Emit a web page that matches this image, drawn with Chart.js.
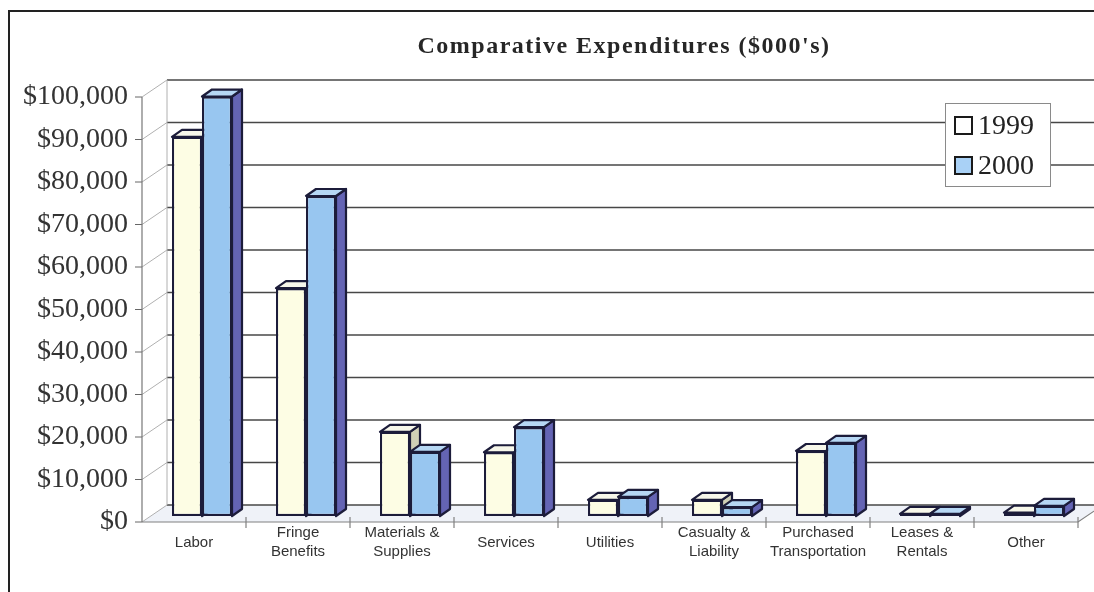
<!DOCTYPE html>
<html>
<head>
<meta charset="utf-8">
<title>Comparative Expenditures</title>
<script src="https://cdn.jsdelivr.net/npm/chart.js"></script>
<style>
  html, body { margin: 0; padding: 0; background: #fff; }
  #wrap { width: 1094px; height: 592px; }
</style>
</head>
<body>
<div id="wrap"><canvas id="expChart" width="1094" height="592"></canvas></div>
<script>
// Expenditure categories and yearly totals ($000's)
const categories = [
  "Labor",
  ["Fringe", "Benefits"],
  ["Materials &", "Supplies"],
  "Services",
  "Utilities",
  ["Casualty &", "Liability"],
  ["Purchased", "Transportation"],
  ["Leases &", "Rentals"],
  "Other"
];
const seriesNames = ["1999", "2000"];
const values1999 = [89200, 53600, 19800, 15000, 3800, 3800, 15300, 500, 800];
const values2000 = [98700, 75300, 15100, 20900, 4500, 2100, 17200, 500, 2400];
const yTicks = [0, 10000, 20000, 30000, 40000, 50000, 60000, 70000, 80000, 90000, 100000];

// colours: front / top / side for each series
const frontColors = ["#fdfde4", "#98c6f0"];
const topColors = ["#f7f7ea", "#b6d7f4"];
const sideColors = ["#cfcfb6", "#6464b4"];
const edgeColor = "#1c1c3a";

// offsets for the fake 3D: bar plane -> front axis, front -> back wall, bar depth
const planeDx = 8, planeDy = 6;
const wallDx = 25, wallDy = -17;
const barDx = 10, barDy = -7;

function poly(ctx, pts) {
  ctx.beginPath();
  ctx.moveTo(pts[0][0], pts[0][1]);
  for (let i = 1; i < pts.length; i++) ctx.lineTo(pts[i][0], pts[i][1]);
  ctx.closePath();
}

const chart3d = {
  id: 'chart3d',
  beforeDatasetsDraw(chart) {
    const ctx = chart.ctx;
    const a = chart.chartArea;
    const ys = chart.scales.y;
    const fx0 = a.left - planeDx, fx1 = a.right - planeDx;
    const fy = v => ys.getPixelForValue(v) + planeDy;
    const bx0 = fx0 + wallDx, bx1 = fx1 + wallDx;
    ctx.save();

    // floor
    ctx.fillStyle = "#eff2f8";
    poly(ctx, [[fx0, fy(0)], [fx1, fy(0)], [bx1, fy(0) + wallDy], [bx0, fy(0) + wallDy]]);
    ctx.fill();

    // gridlines on back wall and side wall
    ys.ticks.forEach(t => {
      const yf = fy(t.value), yb = yf + wallDy;
      ctx.strokeStyle = "#474747";
      ctx.lineWidth = 1.4;
      ctx.beginPath();
      ctx.moveTo(bx0, yb);
      ctx.lineTo(chart.width, yb);
      ctx.stroke();
      ctx.strokeStyle = "#b0b0b0";
      ctx.lineWidth = 1;
      ctx.beginPath();
      ctx.moveTo(fx0, yf);
      ctx.lineTo(bx0, yb);
      ctx.stroke();
      // tick mark left of the axis
      ctx.strokeStyle = "#666";
      ctx.beginPath();
      ctx.moveTo(fx0 - 7, yf);
      ctx.lineTo(fx0, yf);
      ctx.stroke();
    });

    // back wall left edge
    ctx.strokeStyle = "#b0b0b0";
    ctx.beginPath();
    ctx.moveTo(bx0, fy(100000) + wallDy);
    ctx.lineTo(bx0, fy(0) + wallDy);
    ctx.stroke();

    // value axis
    ctx.strokeStyle = "#777";
    ctx.lineWidth = 1.2;
    ctx.beginPath();
    ctx.moveTo(fx0, fy(100000));
    ctx.lineTo(fx0, fy(0));
    ctx.stroke();

    // category axis (front edge of floor) with ticks between groups
    ctx.strokeStyle = "#808080";
    ctx.beginPath();
    ctx.moveTo(fx0, fy(0));
    ctx.lineTo(fx1, fy(0));
    ctx.lineTo(bx1, fy(0) + wallDy);
    ctx.stroke();
    const step = (fx1 - fx0) / categories.length;
    for (let i = 1; i <= categories.length; i++) {
      const tx = fx0 + step * i;
      ctx.beginPath();
      ctx.moveTo(tx, fy(0) - 5);
      ctx.lineTo(tx, fy(0) + 6);
      ctx.stroke();
    }

    // tops and sides of bars, drawn behind the front faces
    ctx.strokeStyle = edgeColor;
    ctx.lineWidth = 2.2;
    ctx.lineJoin = "round";
    for (let j = 0; j < categories.length; j++) {
      chart.data.datasets.forEach((ds, i) => {
        const el = chart.getDatasetMeta(i).data[j];
        const p = el.getProps(['x', 'y', 'base', 'width'], true);
        const x0 = p.x - p.width / 2, x1 = p.x + p.width / 2;
        const top = Math.min(p.y, p.base), bot = Math.max(p.y, p.base);
        ctx.fillStyle = sideColors[i];
        poly(ctx, [[x1, top], [x1 + barDx, top + barDy], [x1 + barDx, bot + barDy], [x1, bot]]);
        ctx.fill();
        ctx.stroke();
        ctx.fillStyle = topColors[i];
        poly(ctx, [[x0, top], [x1, top], [x1 + barDx, top + barDy], [x0 + barDx, top + barDy]]);
        ctx.fill();
        ctx.stroke();
      });
    }
    ctx.restore();
  },
  afterDraw(chart) {
    const ctx = chart.ctx;
    ctx.save();

    // title
    ctx.fillStyle = "#262626";
    ctx.font = 'bold 24px "Liberation Serif"';
    ctx.letterSpacing = "1.5px";
    ctx.textAlign = "center";
    ctx.textBaseline = "middle";
    ctx.fillText("Comparative Expenditures ($000's)", 624, 47);
    ctx.letterSpacing = "0px";

    // legend
    ctx.fillStyle = "#fff";
    ctx.fillRect(945, 103, 105, 83);
    ctx.strokeStyle = "#8a8a8a";
    ctx.lineWidth = 1;
    ctx.strokeRect(945.5, 103.5, 105, 83);
    ctx.font = '28px "Liberation Serif"';
    ctx.textAlign = "left";
    chart.data.datasets.forEach((ds, i) => {
      const cy = 126 + i * 40;
      ctx.fillStyle = i === 0 ? "#ffffff" : "#a9d1f6";
      ctx.fillRect(955, cy - 9, 17, 17);
      ctx.strokeStyle = "#1a1a1a";
      ctx.lineWidth = 2;
      ctx.strokeRect(955, cy - 9, 17, 17);
      ctx.fillStyle = "#222";
      ctx.fillText(ds.label, 978, cy + 1);
    });

    // outer frame
    ctx.strokeStyle = "#222";
    ctx.lineWidth = 2;
    ctx.beginPath();
    ctx.moveTo(9, 592);
    ctx.lineTo(9, 11);
    ctx.lineTo(1094, 11);
    ctx.stroke();
    ctx.restore();
  }
};

new Chart(document.getElementById("expChart"), {
  type: "bar",
  data: {
    labels: categories,
    datasets: [
      {
        label: seriesNames[0],
        data: values1999,
        backgroundColor: frontColors[0],
        borderColor: edgeColor,
        borderWidth: 2.2,
        borderSkipped: false
      },
      {
        label: seriesNames[1],
        data: values2000,
        backgroundColor: frontColors[1],
        borderColor: edgeColor,
        borderWidth: 2.2,
        borderSkipped: false
      }
    ]
  },
  options: {
    responsive: false,
    animation: false,
    devicePixelRatio: 1,
    layout: { padding: { top: 91, right: 8, left: 0, bottom: 0 } },
    datasets: { bar: { categoryPercentage: 0.577, barPercentage: 1 } },
    plugins: {
      legend: { display: false },
      tooltip: { enabled: false }
    },
    scales: {
      x: {
        grid: { display: false, drawTicks: false },
        border: { display: false },
        afterFit: s => { s.height = 76; },
        ticks: {
          autoSkip: false,
          maxRotation: 0,
          labelOffset: -planeDx,
          padding: 17,
          crossAlign: "center",
          color: "#333",
          font: { family: "Liberation Sans", size: 15, lineHeight: 1.25 }
        }
      },
      y: {
        min: 0,
        max: 100000,
        grid: { display: false, drawTicks: false },
        border: { display: false },
        afterFit: s => { s.width = 150; },
        afterBuildTicks: s => { s.ticks = yTicks.map(v => ({ value: v })); },
        ticks: {
          autoSkip: false,
          labelOffset: planeDy,
          padding: 22,
          color: "#333",
          font: { family: "Liberation Serif", size: 28 },
          callback: v => "$" + v.toLocaleString("en-US")
        }
      }
    }
  },
  plugins: [chart3d]
});
</script>
</body>
</html>
